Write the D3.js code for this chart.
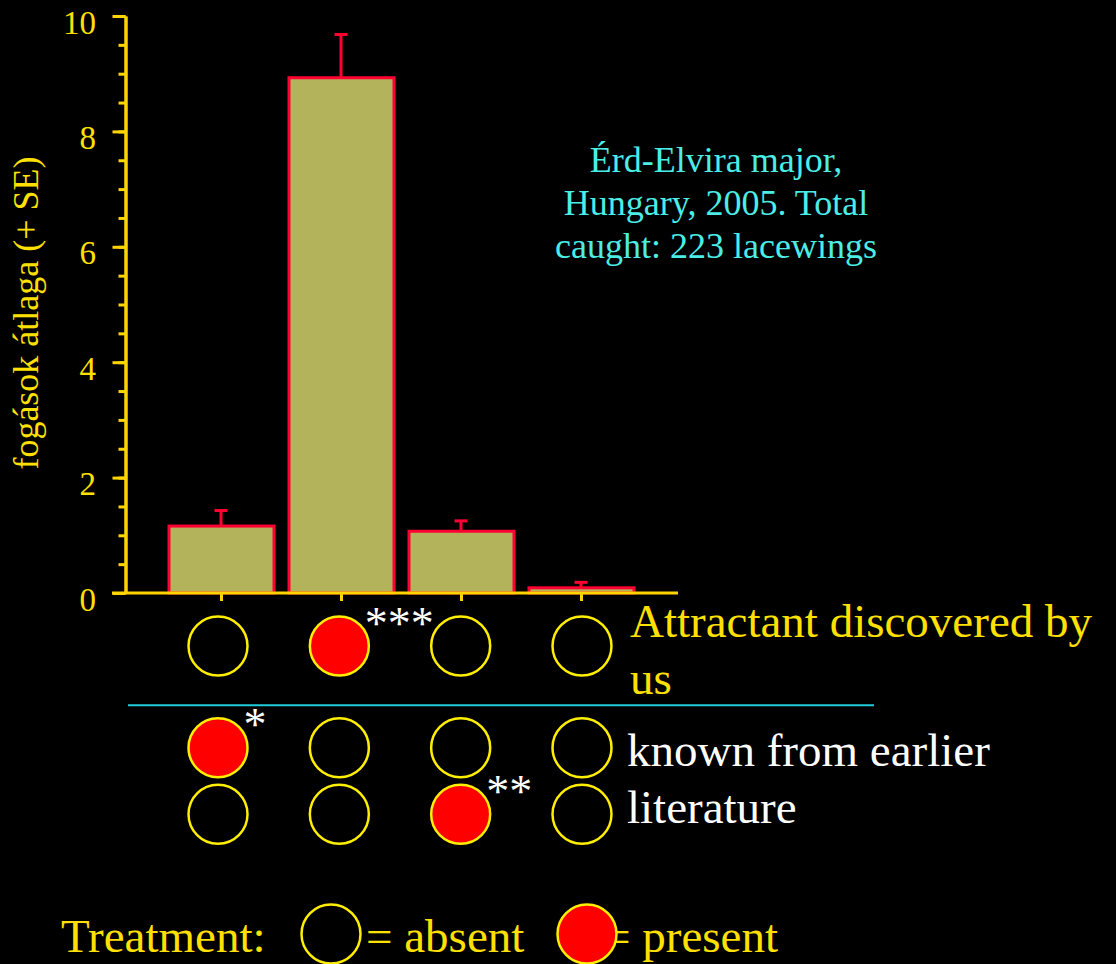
<!DOCTYPE html>
<html>
<head>
<meta charset="utf-8">
<script src="https://cdn.jsdelivr.net/npm/d3@7"></script>
<style>
  html, body { margin: 0; padding: 0; background: #000; }
  svg { display: block; }
</style>
</head>
<body>
<svg id="chart" width="1116" height="964"></svg>
<script>
// Mean catches per trap for four treatments, with standard errors
const treatments = ["T1", "T2", "T3", "T4"];
const means = [1.16, 8.93, 1.07, 0.09];
const stdErr = [0.27, 0.75, 0.18, 0.095];
const yTicks = [0, 2, 4, 6, 8, 10];

// Which compounds are present in each treatment (rows = compounds)
const rowDiscovered = [0, 1, 0, 0];
const rowEarlierA = [1, 0, 0, 0];
const rowEarlierB = [0, 0, 1, 0];
const significance = ["*", "***", "**", ""];

const YELLOW_AXIS = "#FFD400";
const YELLOW_TEXT = "#FFE000";
const CIRCLE_STROKE = "#FFEE00";
const BAR_FILL = "#B3B35C";
const BAR_STROKE = "#FF0033";
const CYAN_TEXT = "#4CEDE6";
const CYAN_LINE = "#22CCD8";
const FONT = "'Liberation Serif', 'Times New Roman', serif";

const svg = d3.select("#chart")
  .attr("font-family", FONT);
svg.append("rect").attr("width", 1116).attr("height", 964).attr("fill", "#000");

const x = d3.scaleBand().domain(treatments).range([154, 649]).paddingInner(0.125).paddingOuter(0.125);
const y = d3.scaleLinear().domain([0, 10]).range([593, 16]);
const axisX = 125.5;

// Bars
const g = svg.append("g");
g.selectAll("rect.bar").data(treatments).join("rect")
  .attr("class", "bar")
  .attr("x", d => x(d))
  .attr("width", x.bandwidth())
  .attr("y", (d, i) => y(means[i]))
  .attr("height", (d, i) => y(0) - y(means[i]))
  .attr("fill", BAR_FILL)
  .attr("stroke", BAR_STROKE)
  .attr("stroke-width", 3);

// Error bars (+ SE)
treatments.forEach((t, i) => {
  const cx = x(t) + x.bandwidth() / 2 - 0.5;
  const top = y(means[i] + stdErr[i]);
  g.append("line").attr("x1", cx).attr("x2", cx)
    .attr("y1", y(means[i])).attr("y2", top)
    .attr("stroke", BAR_STROKE).attr("stroke-width", 3);
  g.append("line").attr("x1", cx - 6.5).attr("x2", cx + 6.5)
    .attr("y1", top).attr("y2", top)
    .attr("stroke", BAR_STROKE).attr("stroke-width", 3);
});

// Y axis: minor ticks every 0.5, major ticks with labels every 2
const minor = svg.append("g").attr("transform", `translate(${axisX},0)`)
  .call(d3.axisLeft(y).tickValues(d3.range(0, 10.01, 0.5)).tickSize(7).tickSizeOuter(0).tickFormat(""));
const major = svg.append("g").attr("transform", `translate(${axisX},0)`)
  .call(d3.axisLeft(y).tickValues(yTicks).tickSize(13).tickSizeOuter(0).tickFormat(d3.format("d")))
  .attr("font-family", FONT)
  .attr("font-size", 33);
[minor, major].forEach(a => {
  a.selectAll("path.domain").attr("stroke", YELLOW_AXIS).attr("stroke-width", 3);
  a.selectAll(".tick line").attr("stroke", YELLOW_AXIS).attr("stroke-width", 3);
});
major.selectAll(".tick text")
  .attr("x", -29.5).attr("dy", "17px")
  .attr("fill", YELLOW_TEXT);

// X axis baseline and ticks
const xAxis = svg.append("g").attr("transform", `translate(0,${y(0)})`)
  .call(d3.axisBottom(x).tickSize(8).tickSizeOuter(0).tickFormat(""));
xAxis.select("path.domain").remove();
xAxis.selectAll(".tick line").attr("stroke", YELLOW_AXIS).attr("stroke-width", 3);
svg.append("line").attr("x1", 112).attr("x2", 678).attr("y1", y(0)).attr("y2", y(0))
  .attr("stroke", YELLOW_AXIS).attr("stroke-width", 3);

// Y axis title
svg.append("text")
  .attr("transform", "translate(38,313) rotate(-90)")
  .attr("text-anchor", "middle")
  .attr("fill", YELLOW_TEXT)
  .attr("font-size", 36)
  .text("fogások átlaga (+ SE)");

// Site note
const note = ["Érd-Elvira major,", "Hungary, 2005. Total", "caught: 223 lacewings"];
svg.append("g").selectAll("text").data(note).join("text")
  .attr("x", 716).attr("y", (d, i) => 171.7 + i * 43.3)
  .attr("text-anchor", "middle")
  .attr("fill", CYAN_TEXT)
  .attr("font-size", 36)
  .text(d => d);

// Treatment composition matrix
const cx = d3.scalePoint().domain(treatments).range([218, 582]);
const rows = [
  { values: rowDiscovered, cy: 646 },
  { values: rowEarlierA, cy: 747.7 },
  { values: rowEarlierB, cy: 814.3 }
];
const R = 29.5;
rows.forEach(row => {
  svg.append("g").selectAll("circle").data(treatments).join("circle")
    .attr("cx", d => cx(d))
    .attr("cy", row.cy)
    .attr("r", R)
    .attr("fill", (d, i) => row.values[i] ? "#FF0000" : "#000")
    .attr("stroke", CIRCLE_STROKE)
    .attr("stroke-width", 2.5);
});

// Significance marks beside the present compound of each treatment
treatments.forEach((t, i) => {
  if (!significance[i]) return;
  const row = rows.find(r => r.values[i]);
  svg.append("text")
    .attr("x", cx(t) + 25.5).attr("y", row.cy - 7.5)
    .attr("fill", "#FFFFFF")
    .attr("font-size", 46)
    .text(significance[i]);
});

// Separator between the new attractant and compounds from literature
svg.append("line").attr("x1", 128).attr("x2", 874).attr("y1", 705.3).attr("y2", 705.3)
  .attr("stroke", CYAN_LINE).attr("stroke-width", 2);

// Row labels
const label = (tx, ty, fill, str) =>
  svg.append("text").attr("x", tx).attr("y", ty).attr("fill", fill).attr("font-size", 47).text(str);
label(630, 637, YELLOW_TEXT, "Attractant discovered by");
label(630, 694, YELLOW_TEXT, "us");
label(627, 766, "#FFFFFF", "known from earlier");
label(627, 823, "#FFFFFF", "literature");

// Legend
label(61, 952, YELLOW_TEXT, "Treatment:");
svg.append("circle").attr("cx", 331).attr("cy", 934).attr("r", R)
  .attr("fill", "#000").attr("stroke", CIRCLE_STROKE).attr("stroke-width", 2.5);
label(366, 952, YELLOW_TEXT, "= absent");
label(604, 952, YELLOW_TEXT, "= present");
svg.append("circle").attr("cx", 587).attr("cy", 934).attr("r", R)
  .attr("fill", "#FF0000").attr("stroke", CIRCLE_STROKE).attr("stroke-width", 2.5);
</script>
</body>
</html>
